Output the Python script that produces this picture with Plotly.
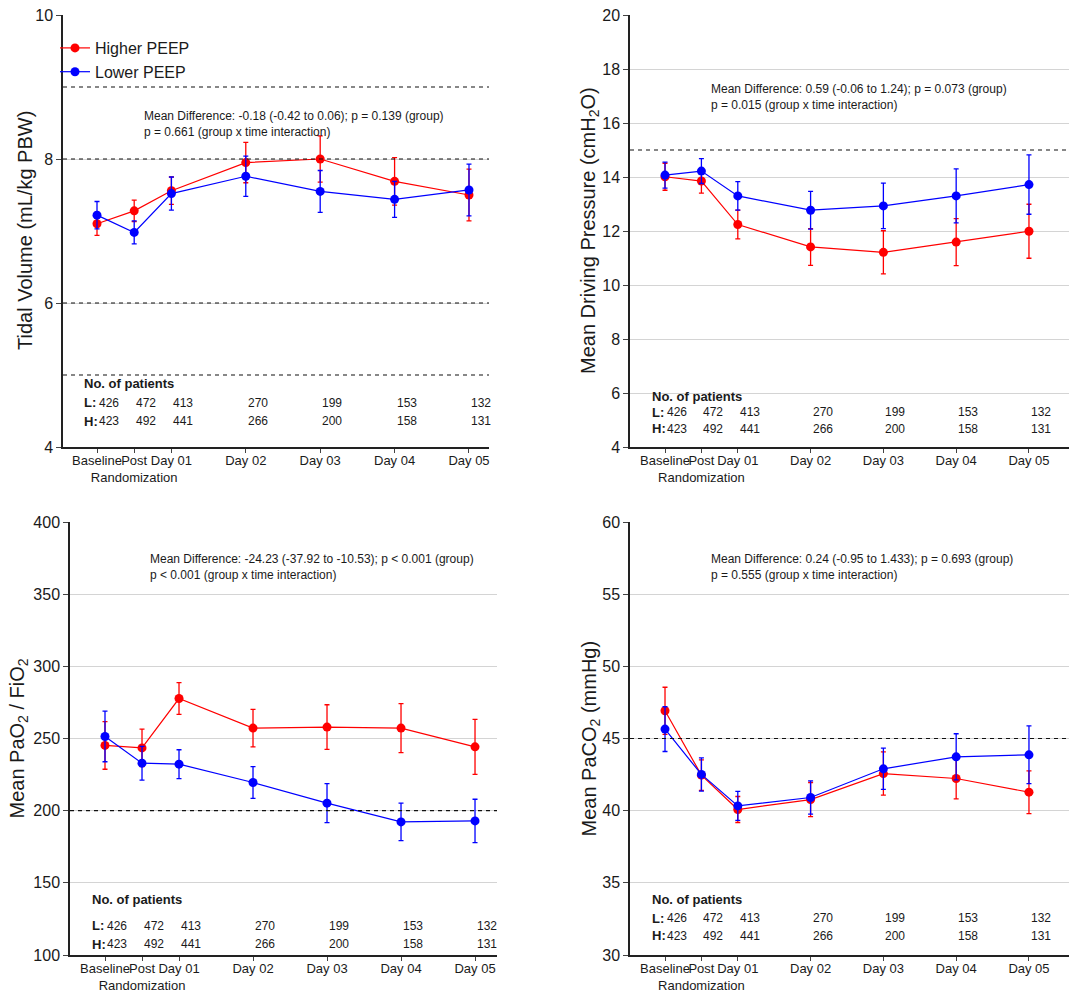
import plotly.graph_objects as go

# ---------------- data ----------------
time_labels = ["Baseline", "Post<br>Randomization", "Day 01", "Day 02", "Day 03", "Day 04", "Day 05"]
time_pos = [0, 0.5, 1, 2, 3, 4, 5]

n_lower = [426, 472, 413, 270, 199, 153, 132]
n_higher = [423, 492, 441, 266, 200, 158, 131]

# Tidal volume (mL/kg PBW)
tv_high = [7.10, 7.28, 7.56, 7.95, 8.00, 7.69, 7.50]
tv_high_err = [0.16, 0.15, 0.19, 0.28, 0.32, 0.33, 0.36]
tv_low = [7.22, 6.98, 7.52, 7.76, 7.55, 7.44, 7.57]
tv_low_err = [0.19, 0.16, 0.23, 0.28, 0.29, 0.25, 0.36]

# Driving pressure (cmH2O)
dp_high = [14.01, 13.85, 12.24, 11.41, 11.21, 11.59, 11.99]
dp_high_err = [0.50, 0.45, 0.53, 0.68, 0.80, 0.87, 1.00]
dp_low = [14.07, 14.22, 13.30, 12.77, 12.93, 13.30, 13.72]
dp_low_err = [0.48, 0.46, 0.53, 0.70, 0.84, 1.00, 1.10]

# PaO2/FiO2
pf_high = [245.2, 243.5, 277.7, 257.2, 257.9, 257.2, 244.2]
pf_high_err = [16.5, 13.0, 11.0, 13.0, 15.5, 17.0, 19.0]
pf_low = [251.4, 232.9, 232.2, 219.5, 205.2, 192.2, 192.9]
pf_low_err = [17.5, 11.7, 10.0, 11.0, 13.5, 13.0, 15.0]

# PaCO2 (mmHg)
pc_high = [46.92, 42.46, 40.08, 40.77, 42.57, 42.23, 41.28]
pc_high_err = [1.63, 1.06, 0.90, 1.18, 1.50, 1.41, 1.48]
pc_low = [45.65, 42.51, 40.33, 40.91, 42.90, 43.73, 43.87]
pc_low_err = [1.55, 1.15, 1.00, 1.15, 1.43, 1.60, 2.00]

# annotation texts
stats_text = [
    "Mean Difference: -0.18 (-0.42 to 0.06); p = 0.139 (group)<br>p = 0.661 (group x time interaction)",
    "Mean Difference: 0.59 (-0.06 to 1.24); p = 0.073 (group)<br>p = 0.015 (group x time interaction)",
    "Mean Difference: -24.23 (-37.92 to -10.53); p < 0.001 (group)<br>p < 0.001 (group x time interaction)",
    "Mean Difference: 0.24 (-0.95 to 1.433); p = 0.693 (group)<br>p = 0.555 (group x time interaction)",
]
y_titles = [
    "Tidal Volume (mL/kg PBW)",
    "Mean Driving Pressure (cmH<sub>2</sub>O)",
    "Mean PaO<sub>2</sub> / FiO<sub>2</sub>",
    "Mean PaCO<sub>2</sub> (mmHg)",
]
y_ranges = [[4, 10], [4, 20], [100, 400], [30, 60]]
y_dticks = [2, 2, 50, 5]
ref_lines = [[5, 6, 8, 9], [15], [200], [45]]

# ---------------- layout geometry ----------------
W, H = 1069, 994
panels = [
    dict(xd=(63, 489), yd=(15, 447), xr=[-0.457, 5.269], tx=25, sx=0.60, sy=0.748,
         rows=(0.146, 0.102, 0.060)),
    dict(xd=(630, 1069), yd=(15, 447), xr=[-0.481, 5.55], tx=589, sx=0.60, sy=0.810,
         rows=(0.116, 0.081, 0.042)),
    dict(xd=(70, 497), yd=(522, 955), xr=[-0.473, 5.297], tx=18, sx=0.58, sy=0.896,
         rows=(0.129, 0.067, 0.025)),
    dict(xd=(630, 1069), yd=(522, 955), xr=[-0.481, 5.55], tx=590, sx=0.60, sy=0.896,
         rows=(0.129, 0.085, 0.044)),
]

series = [
    (tv_high, tv_high_err, tv_low, tv_low_err),
    (dp_high, dp_high_err, dp_low, dp_low_err),
    (pf_high, pf_high_err, pf_low, pf_low_err),
    (pc_high, pc_high_err, pc_low, pc_low_err),
]

RED = "#ff0000"
BLUE = "#0000ff"
FONT = "Liberation Sans, Arial, sans-serif"
TXT = "#1a1a1a"

fig = go.Figure()
annotations = []
shapes = []
layout_axes = {}

for i, (p, (hi, hie, lo, loe)) in enumerate(zip(panels, series)):
    k = "" if i == 0 else str(i + 1)
    xa, ya = "x" + k, "y" + k
    fig.add_trace(go.Scatter(
        x=time_pos, y=hi, mode="lines+markers", name="Higher PEEP",
        line=dict(color=RED, width=1.2), marker=dict(color=RED, size=9),
        error_y=dict(type="data", array=hie, visible=True, color=RED, thickness=1.3, width=2.5),
        xaxis=xa, yaxis=ya, showlegend=(i == 0), legendrank=1,
    ))
    fig.add_trace(go.Scatter(
        x=time_pos, y=lo, mode="lines+markers", name="Lower PEEP",
        line=dict(color=BLUE, width=1.2), marker=dict(color=BLUE, size=9),
        error_y=dict(type="data", array=loe, visible=True, color=BLUE, thickness=1.3, width=2.5),
        xaxis=xa, yaxis=ya, showlegend=(i == 0), legendrank=2,
    ))

    xdom = [p["xd"][0] / W, min(p["xd"][1] / W, 1.0)]
    ydom = [1 - p["yd"][1] / H, 1 - p["yd"][0] / H]
    layout_axes["xaxis" + k] = dict(
        domain=xdom, range=p["xr"], anchor=ya, automargin=False,
        tickmode="array", tickvals=time_pos, ticktext=time_labels, tickangle=0,
        ticklabelstandoff=-3,
        showgrid=False, zeroline=False,
        showline=True, linecolor="#222", linewidth=1.5,
        ticks="outside", ticklen=4, tickcolor="#444", tickwidth=1,
        tickfont=dict(family=FONT, size=13, color=TXT),
    )
    layout_axes["yaxis" + k] = dict(
        domain=ydom, range=y_ranges[i], anchor=xa, dtick=y_dticks[i], tick0=y_ranges[i][0],
        automargin=False,
        showgrid=True, gridcolor="#d4d4d4", gridwidth=1, zeroline=False,
        showline=True, linecolor="#222", linewidth=1.5,
        ticks="outside", ticklen=5, tickcolor="#444", tickwidth=1,
        tickfont=dict(family=FONT, size=16, color=TXT),
    )

    annotations.append(dict(
        text=y_titles[i], xref="paper", yref="paper",
        x=p["tx"] / W, y=(ydom[0] + ydom[1]) / 2, textangle=-90,
        showarrow=False, xanchor="center", yanchor="middle",
        font=dict(family=FONT, size=20, color=TXT),
    ))
    annotations.append(dict(
        text=stats_text[i], xref=xa, yref=ya + " domain", x=p["sx"], y=p["sy"],
        showarrow=False, xanchor="left", yanchor="middle", align="left",
        font=dict(family=FONT, size=12, color=TXT),
    ))
    r0, r1, r2 = p["rows"]
    annotations.append(dict(
        text="<b>No. of patients</b>", xref=xa, yref=ya + " domain", x=-0.2, y=r0,
        showarrow=False, xanchor="left", yanchor="middle",
        font=dict(family=FONT, size=13, color=TXT),
    ))
    for lab, vals, ry in (("L:", n_lower, r1), ("H:", n_higher, r2)):
        annotations.append(dict(
            text="<b>" + lab + "</b>", xref=xa, yref=ya + " domain", x=-0.2, y=ry,
            showarrow=False, xanchor="left", yanchor="middle",
            font=dict(family=FONT, size=13, color=TXT),
        ))
        for xp, v in zip(time_pos, vals):
            annotations.append(dict(
                text=str(v), xref=xa, yref=ya + " domain", x=xp, y=ry,
                showarrow=False, xanchor="left", yanchor="middle",
                font=dict(family=FONT, size=12, color=TXT),
            ))
    for rv in ref_lines[i]:
        shapes.append(dict(
            type="line", xref=xa + " domain", yref=ya, x0=0, x1=1, y0=rv, y1=rv,
            line=dict(color="#111", width=1.2, dash="4px,4px"), layer="above",
        ))

fig.update_layout(
    width=W, height=H,
    margin=dict(l=0, r=0, t=0, b=0, autoexpand=False),
    paper_bgcolor="white", plot_bgcolor="white",
    showlegend=True,
    legend=dict(
        x=55 / W, y=1 - 31 / H, xanchor="left", yanchor="top",
        bgcolor="rgba(0,0,0,0)", font=dict(family=FONT, size=16, color=TXT),
        itemwidth=30, tracegroupgap=0,
    ),
    annotations=annotations,
    shapes=shapes,
    **layout_axes,
)

fig.write_html("out.html")
